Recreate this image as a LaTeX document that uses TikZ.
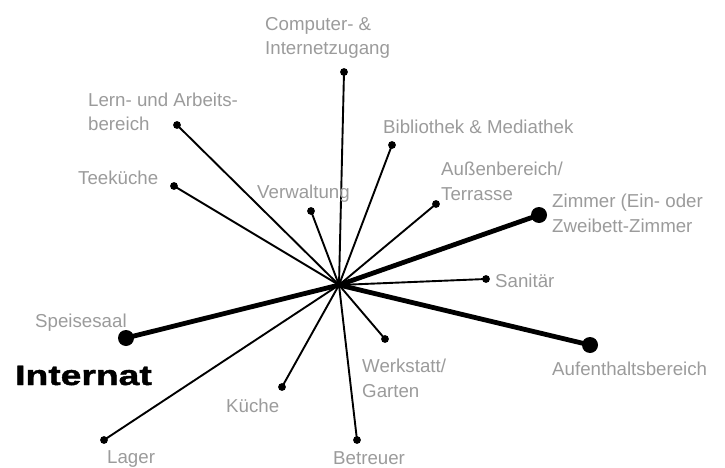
\documentclass[tikz,border=0pt]{standalone}
\usepackage{fontspec}
\setmainfont{Liberation Sans}
\newfontfamily\titlefont[FakeStretch=1.33,FakeBold=1.5]{Liberation Sans}
\definecolor{labelgray}{RGB}{155,155,155}
\tikzset{
  spoke/.style={line width=1.9pt, black},
  mainspoke/.style={line width=4.8pt, black},
  smalldot/.style={circle, fill=black, inner sep=0pt, minimum size=7.8pt},
  bigdot/.style={circle, fill=black, inner sep=0pt, minimum size=16pt},
  % base anchor of a two-line label sits on its last line
  lbl/.style={anchor=base west, inner sep=0pt, text=labelgray, align=left,
    font=\fontsize{18.7}{24.8}\selectfont},
}
\begin{document}
\begin{tikzpicture}[x=1pt,y=-1pt]
\useasboundingbox (0,0) rectangle (725,468);

% centre of the star
\coordinate (hub) at (339,285);

% end points
\node[smalldot] (comp)  at (344,72) {};
\node[smalldot] (lern)  at (177,125) {};
\node[smalldot] (bib)   at (392,145) {};
\node[smalldot] (tee)   at (174,186) {};
\node[smalldot] (verw)  at (311,211) {};
\node[smalldot] (aussen) at (436,204) {};
\node[bigdot]   (zimmer) at (539,215) {};
\node[smalldot] (sani)  at (486,279) {};
\node[bigdot]   (speise) at (126,338) {};
\node[bigdot]   (aufent) at (590,345) {};
\node[smalldot] (werk)  at (385,339) {};
\node[smalldot] (kueche) at (282,387) {};
\node[smalldot] (lager) at (104,440) {};
\node[smalldot] (betr)  at (357,440) {};

% spokes
\foreach \n in {comp,lern,bib,tee,verw,aussen,sani,werk,kueche,lager,betr}
  \draw[spoke] (hub) -- (\n.center);
\foreach \n in {zimmer,speise,aufent}
  \draw[mainspoke] (hub) -- (\n.center);

% labels
\node[lbl] (tcomp)   at (265,55)  {Computer- \&\\Internetzugang};
\node[lbl] (tlern)   at (88,131)  {Lern- und Arbeits-\\bereich};
\node[lbl] (tbib)    at (383,133) {Bibliothek \& Mediathek};
\node[lbl] (ttee)    at (78,184)  {Teeküche};
\node[lbl] (tverw)   at (257,198) {Verwaltung};
\node[lbl] (taussen) at (441,200) {Außenbereich/\\Terrasse};
\node[lbl] (tzimmer) at (552,232) {Zimmer (Ein- oder\\Zweibett-Zimmer};
\node[lbl] (tsani)   at (495,287) {Sanitär};
\node[lbl] (tspeise) at (35,327)  {Speisesaal};
\node[lbl] (taufent) at (552,375) {Aufenthaltsbereich};
\node[lbl] (twerk)   at (362,397) {Werkstatt/\\Garten};
\node[lbl] (tkueche) at (226,412) {Küche};
\node[lbl] (tlager)  at (107,463) {Lager};
\node[lbl] (tbetr)   at (333,464.5) {Betreuer};

\node[anchor=base west, inner sep=0pt, font=\titlefont\bfseries\fontsize{28}{30}\selectfont]
  (title) at (15,385) {Internat};
\end{tikzpicture}
\end{document}
